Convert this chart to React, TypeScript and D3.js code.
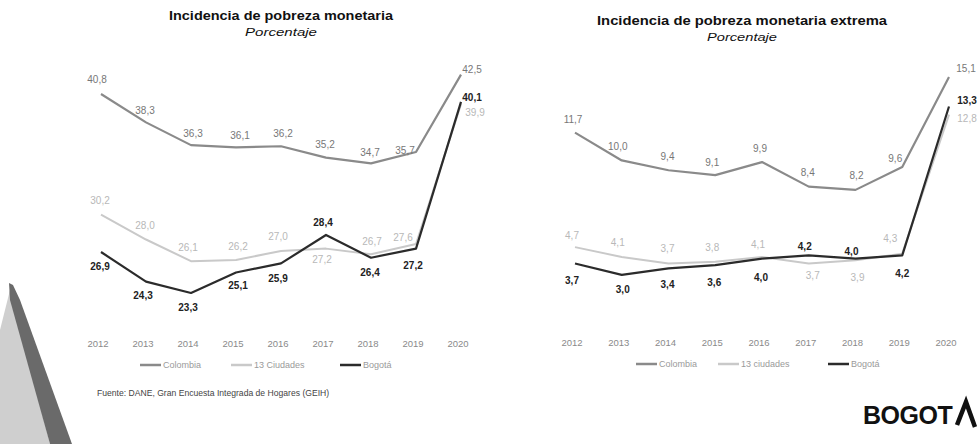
import React from 'react';
import * as d3 from 'd3';

const years = ['2012', '2013', '2014', '2015', '2016', '2017', '2018', '2019', '2020'];
const pobColombia = [40.8, 38.3, 36.3, 36.1, 36.2, 35.2, 34.7, 35.7, 42.5];
const pob13 = [30.2, 28.0, 26.1, 26.2, 27.0, 27.2, 26.7, 27.6, 39.9];
const pobBogota = [26.9, 24.3, 23.3, 25.1, 25.9, 28.4, 26.4, 27.2, 40.1];
const extColombia = [11.7, 10.0, 9.4, 9.1, 9.9, 8.4, 8.2, 9.6, 15.1];
const ext13 = [4.7, 4.1, 3.7, 3.8, 4.1, 3.7, 3.9, 4.3, 12.8];
const extBogota = [3.7, 3.0, 3.4, 3.6, 4.0, 4.2, 4.0, 4.2, 13.3];
const legendLeft = ['Colombia', '13 Ciudades', 'Bogotá'];
const legendRight = ['Colombia', '13 ciudades', 'Bogotá'];

const W = 977;
const H = 444;

const COL = { colombia: '#8a8a8a', c13: '#c9c9c9', bogota: '#2b2b2b' };
const LBL = { colombia: '#777', c13: '#b8b8b8', bogota: '#222' };

// label offsets (layout only)
const offLeft = {
  colombia: [[-4, -14], [-1, -12], [2, -12], [4, -12], [2, -13], [-1, -13], [-1, -11], [-11, -1], [11, -5]],
  c13: [[-1, -14], [-1, -14], [-3, -14], [2, -13], [-3, -14], [-4, 11], [1, -13], [-13, -7], [14, 8]],
  bogota: [[-1, 14], [-3, 14], [-3, 15], [2, 13], [-3, 15], [-3, -12], [-1, 15], [-3, 17], [11, -4]],
};
const offRight = {
  colombia: [[-2, -13], [-4, -14], [-1, -14], [-3, -13], [-2, -14], [-1, -14], [1, -14], [-7, -8], [17, -9]],
  c13: [[-3, -12], [-4, -14], [-1, -15], [-3, -14], [-4, -12], [4, 12], [2, 17], [-12, -15], [18, 4]],
  bogota: [[-3, 17], [1, 15], [-1, 16], [-1, 17], [-1, 19], [-4, -9], [-4, -7], [0, 18], [18, -6]],
};

const fmt = (v: number) => v.toFixed(1).replace('.', ',');
const FONT = 'Liberation Sans, Arial, sans-serif';

type PanelProps = {
  title: string;
  titleLen: number;
  subLen: number;
  titleX: number;
  titleY: number;
  xRange: [number, number];
  yDomain: [number, number];
  yRange: [number, number];
  series: { key: 'colombia' | 'c13' | 'bogota'; values: number[] }[];
  offsets: any;
  yearY: number;
  legend: string[];
  legendX: number[];
  legendY: number;
};

function Panel(p: PanelProps) {
  const x = d3.scalePoint<string>().domain(years).range(p.xRange);
  const y = d3.scaleLinear().domain(p.yDomain).range(p.yRange);
  const line = d3
    .line<number>()
    .x((_, i) => x(years[i]) as number)
    .y((d) => y(d));
  const order: ('c13' | 'colombia' | 'bogota')[] = ['c13', 'colombia', 'bogota'];
  const byKey: any = {};
  p.series.forEach((s) => (byKey[s.key] = s.values));
  return (
    <g>
      <text x={p.titleX} y={p.titleY} textAnchor="middle" fontFamily={FONT} fontWeight="bold" fontSize={12} fill="#111" textLength={p.titleLen} lengthAdjust="spacingAndGlyphs">
        {p.title}
      </text>
      <text x={p.titleX} y={p.titleY + 16} textAnchor="middle" fontFamily={FONT} fontStyle="italic" fontSize={11.5} fill="#111" textLength={p.subLen} lengthAdjust="spacingAndGlyphs">
        Porcentaje
      </text>
      {order.map((k) => (
        <path key={k} d={line(byKey[k]) || ''} fill="none" stroke={COL[k]} strokeWidth={k === 'c13' ? 2 : 2.2} strokeLinejoin="round" />
      ))}
      {order.map((k) =>
        byKey[k].map((v: number, i: number) => (
          <text
            key={k + i}
            x={(x(years[i]) as number) + p.offsets[k][i][0]}
            y={y(v) + p.offsets[k][i][1]}
            textAnchor="middle"
            dominantBaseline="central"
            fontFamily={FONT}
            fontSize={10}
            fontWeight={k === 'bogota' ? 'bold' : 'normal'}
            fill={LBL[k]}
          >
            {fmt(v)}
          </text>
        ))
      )}
      {years.map((yr) => (
        <text key={yr} x={(x(yr) as number) - 3} y={p.yearY} textAnchor="middle" dominantBaseline="central" fontFamily={FONT} fontSize={9.5} fill="#8a8a8a">
          {yr}
        </text>
      ))}
      {p.legend.map((name, i) => {
        const k = (['colombia', 'c13', 'bogota'] as const)[i];
        const lx = p.legendX[i];
        return (
          <g key={name}>
            <line x1={lx} x2={lx + 21} y1={p.legendY} y2={p.legendY} stroke={COL[k]} strokeWidth={2.5} />
            <text x={lx + 23} y={p.legendY} dominantBaseline="central" fontFamily={FONT} fontSize={9} fill="#9a9a9a">
              {name}
            </text>
          </g>
        );
      })}
    </g>
  );
}

export default function App() {
  return (
    <svg width={W} height={H} style={{ position: 'absolute', left: 0, top: 0, background: '#fff' }}>
      <rect x={0} y={0} width={W} height={H} fill="#fff" />
      {/* scanned page edge at bottom-left */}
      <polygon points="10,290 50,444 0,444 0,330" fill="#cfcfcf" />
      <polygon points="9,283 13,285 20,300 72,444 50,444 10,300" fill="#6a6a6a" />
      <Panel
        title="Incidencia de pobreza monetaria"
        titleLen={224}
        subLen={72}
        titleX={281}
        titleY={20}
        xRange={[101, 461]}
        yDomain={[20, 45]}
        yRange={[330.5, 46.2]}
        series={[
          { key: 'colombia', values: pobColombia },
          { key: 'c13', values: pob13 },
          { key: 'bogota', values: pobBogota },
        ]}
        offsets={offLeft}
        yearY={343}
        legend={legendLeft}
        legendX={[140, 231, 340]}
        legendY={365}
      />
      <Panel
        title="Incidencia de pobreza monetaria extrema"
        titleLen={290}
        subLen={70}
        titleX={742}
        titleY={25}
        xRange={[575, 949]}
        yDomain={[0, 16]}
        yRange={[324, 62.3]}
        series={[
          { key: 'colombia', values: extColombia },
          { key: 'c13', values: ext13 },
          { key: 'bogota', values: extBogota },
        ]}
        offsets={offRight}
        yearY={342}
        legend={legendRight}
        legendX={[636, 718, 828]}
        legendY={364}
      />
      <text x={97} y={396} fontFamily={FONT} fontSize={8.6} fill="#444">
        Fuente: DANE, Gran Encuesta Integrada de Hogares (GEIH)
      </text>
      <text x={863} y={424} fontFamily={FONT} fontWeight="bold" fontSize={25} fill="#111" letterSpacing={-0.5}>
        BOGOT
      </text>
      <polyline points="957,425 966,402 975,427" fill="none" stroke="#111" strokeWidth={4.5} strokeLinejoin="miter" />
    </svg>
  );
}
